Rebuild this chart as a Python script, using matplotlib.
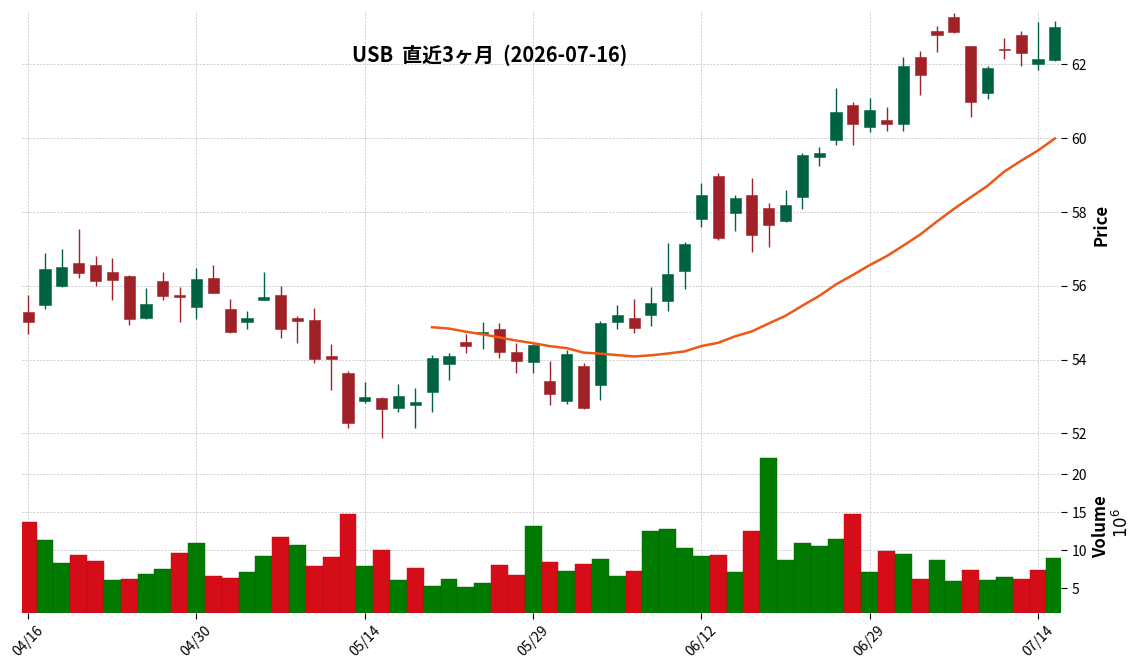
import matplotlib
matplotlib.use('Agg')
import matplotlib.pyplot as plt
from matplotlib.patches import Rectangle
import numpy as np
import pandas as pd

plt.rcParams['font.family'] = ['Noto Sans CJK JP', 'DejaVu Sans']

ticker = 'USB'
title = 'USB  直近3ヶ月  (2026-07-16)'
holidays = ['2026-05-25', '2026-06-19', '2026-07-03']
dates = pd.bdate_range('2026-04-16', '2026-07-15', freq='C', holidays=holidays)

opens = [55.30, 55.47, 55.99, 56.63, 56.57, 56.38, 56.28, 55.14, 56.14, 55.74,
         55.44, 56.22, 55.38, 55.03, 55.63, 55.76, 55.13, 55.08, 54.10, 53.64,
         52.89, 52.96, 52.70, 52.78, 53.11, 53.87, 54.48, 54.69, 54.84, 54.21,
         53.95, 53.42, 52.89, 53.83, 53.32, 55.03, 55.13, 55.22, 55.58, 56.39,
         57.81, 58.97, 57.97, 58.45, 58.12, 57.75, 58.40, 59.49, 59.95, 60.91,
         60.31, 60.49, 60.39, 62.20, 62.91, 63.29, 62.50, 61.23, 62.42, 62.80,
         62.02, 62.12]
highs = [55.75, 56.89, 57.00, 57.54, 56.81, 56.76, 56.30, 55.94, 56.37, 55.97,
         56.48, 56.57, 55.64, 55.32, 56.37, 55.99, 55.18, 55.40, 54.42, 53.69,
         53.39, 52.98, 53.33, 53.22, 54.12, 54.17, 54.69, 55.02, 55.00, 54.45,
         54.42, 53.96, 54.25, 53.92, 55.06, 55.49, 55.64, 55.97, 57.15, 57.19,
         58.79, 59.07, 58.45, 58.93, 58.25, 58.61, 59.61, 59.77, 61.35, 60.99,
         61.10, 60.86, 62.19, 62.37, 63.03, 63.39, 62.50, 61.96, 62.72, 62.92,
         63.14, 63.17]
lows = [54.69, 55.37, 55.97, 56.21, 55.99, 55.61, 54.93, 55.10, 55.61, 55.02,
        55.10, 55.80, 54.73, 54.83, 55.62, 54.58, 54.45, 53.90, 53.18, 52.16,
        52.82, 51.89, 52.57, 52.16, 52.59, 53.44, 54.17, 54.28, 54.04, 53.63,
        53.63, 52.77, 52.79, 52.67, 52.92, 54.83, 54.72, 54.92, 55.32, 55.91,
        57.60, 57.24, 57.49, 56.92, 57.05, 57.74, 58.09, 59.25, 59.83, 59.83,
        60.18, 60.21, 60.21, 61.18, 62.33, 62.84, 60.59, 61.06, 62.14, 61.95,
        61.84, 62.09]
closes = [55.01, 56.47, 56.52, 56.34, 56.12, 56.15, 55.09, 55.51, 55.72, 55.69,
          56.19, 55.81, 54.75, 55.13, 55.70, 54.84, 55.06, 54.02, 54.01, 52.29,
          52.99, 52.67, 53.01, 52.84, 54.05, 54.10, 54.36, 54.74, 54.22, 53.97,
          54.40, 53.08, 54.16, 52.68, 55.00, 55.22, 54.87, 55.54, 56.33, 57.14,
          58.45, 57.29, 58.39, 57.39, 57.64, 58.18, 59.54, 59.61, 60.70, 60.39,
          60.76, 60.40, 61.95, 61.72, 62.81, 62.88, 60.99, 61.90, 62.39, 62.32,
          62.14, 63.01]
# volume in millions of shares
volumes = [13.73, 11.36, 8.33, 9.39, 8.60, 6.10, 6.23, 6.89, 7.54, 9.65,
           10.96, 6.62, 6.36, 7.15, 9.25, 11.75, 10.70, 7.94, 9.12, 14.78,
           7.94, 10.04, 6.10, 7.68, 5.31, 6.23, 5.18, 5.70, 8.07, 6.75,
           13.20, 8.46, 7.28, 8.20, 8.86, 6.62, 7.28, 12.54, 12.81, 10.31,
           9.25, 9.39, 7.15, 12.54, 22.15, 8.73, 10.96, 10.57, 11.49, 14.78,
           7.15, 9.91, 9.52, 6.23, 8.73, 5.96, 7.41, 6.10, 6.49, 6.23,
           7.41, 8.99]
mav = 25

up_color, down_color = '#006340', '#a02128'
vol_up, vol_down = '#007a00', '#d50d18'
mav_color = '#ef5714'

df = pd.DataFrame({'Open': opens, 'High': highs, 'Low': lows,
                   'Close': closes, 'Volume': volumes}, index=dates)
x = np.arange(len(df))
ma = df['Close'].rolling(mav).mean()

fig = plt.figure(figsize=(11.44, 6.70), dpi=100)
ax = fig.add_axes([0.0192, 0.3448, 0.9083, 0.6388])
axv = fig.add_axes([0.0192, 0.0855, 0.9083, 0.2563], sharex=ax)

for i, row in enumerate(df.itertuples()):
    c = up_color if row.Close >= row.Open else down_color
    ax.vlines(i, row.Low, row.High, color=c, linewidth=1.0, zorder=2)
    bottom = min(row.Open, row.Close)
    h = max(abs(row.Close - row.Open), 0.03)
    ax.add_patch(Rectangle((i - 0.33, bottom), 0.66, h, facecolor=c,
                           edgecolor=c, linewidth=0.4, zorder=3))

ax.plot(x, ma, color=mav_color, linewidth=1.8, zorder=4)

prev = np.r_[df['Open'].iloc[0], df['Close'].values[:-1]]
vcols = [vol_up if cl >= p else vol_down for cl, p in zip(df['Close'], prev)]
vedge = ['#006400' if c == vol_up else '#b80b14' for c in vcols]
axv.bar(x, df['Volume'], width=1.0, color=vcols, edgecolor=vedge, linewidth=0.3, zorder=2)

ax.set_xlim(-0.37, len(df) - 1 + 0.37)
ax.set_ylim(51.85, 63.45)
axv.set_ylim(1.8, 1.1 * max(volumes))

ticks = x[::10]
axv.set_xticks(ticks)
axv.set_xticklabels([d.strftime('%m/%d') for d in dates[::10]], rotation=45, fontsize=10)
ax.set_yticks([52, 54, 56, 58, 60, 62])
axv.set_yticks([5, 10, 15, 20])

for a in (ax, axv):
    for s in a.spines.values():
        s.set_visible(False)
    a.yaxis.tick_right()
    a.yaxis.set_label_position('right')
    a.grid(True, linestyle=(0, (3, 2)), linewidth=0.5, color='#bdbdbd', zorder=0)
    a.set_axisbelow(True)
    a.tick_params(axis='y', labelsize=10, length=4, width=0.8)
ax.tick_params(axis='x', bottom=False, labelbottom=False)
axv.tick_params(axis='x', length=4, width=0.8)

ax.set_ylabel('Price', fontsize=12, fontweight='bold')
axv.set_ylabel('Volume', fontsize=12, fontweight='bold')
fig.text(1122 / 1144, 1 - 523 / 670, r'$10^6$', rotation=90, fontsize=12,
         ha='center', va='center')

fig.text(490 / 1144, 1 - 55 / 670, title, fontsize=14.4, fontweight='bold',
         ha='center', va='center')

fig.savefig('out.png', dpi=100)
